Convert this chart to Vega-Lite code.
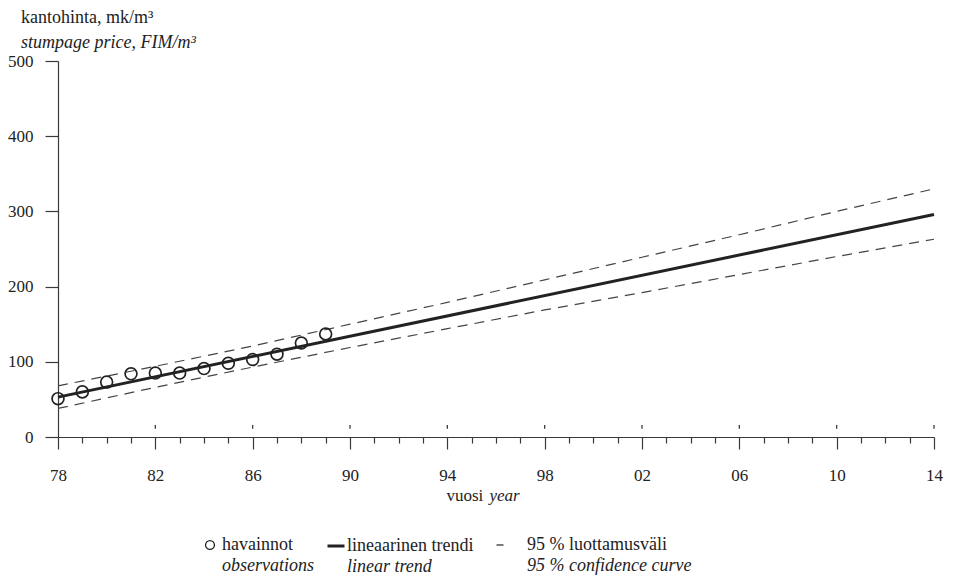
{
  "$schema": "https://vega.github.io/schema/vega-lite/v6.json",
  "width": 876,
  "height": 376,
  "autosize": {"type": "none"},
  "padding": {"left": 58, "top": 61, "right": 22, "bottom": 145},
  "background": "white",
  "config": {
    "font": "Liberation Serif",
    "view": {"stroke": null},
    "axis": {
      "grid": false,
      "domainColor": "#3a3a3a",
      "domainWidth": 1.2,
      "tickColor": "#3a3a3a",
      "tickWidth": 1.2,
      "labelColor": "#222",
      "labelFont": "Liberation Serif",
      "labelFontSize": 17,
      "titleFont": "Liberation Serif",
      "titleFontSize": 17,
      "titleFontWeight": "normal",
      "titleColor": "#222"
    },
    "legend": {
      "orient": "none",
      "direction": "vertical",
      "padding": 0,
      "rowPadding": 3,
      "title": null,
      "labelFont": "Liberation Serif",
      "labelFontSize": 18,
      "labelColor": "#222",
      "labelLimit": 300,
      "symbolStrokeColor": "#222"
    }
  },
  "title": {
    "text": "kantohinta, mk/m³",
    "subtitle": "stumpage price, FIM/m³",
    "anchor": "start",
    "frame": "group",
    "dx": -37,
    "offset": 0,
    "font": "Liberation Serif",
    "fontSize": 18,
    "fontWeight": "normal",
    "color": "#222",
    "subtitleFont": "Liberation Serif",
    "subtitleFontSize": 18,
    "subtitleFontStyle": "italic",
    "subtitleColor": "#222",
    "subtitlePadding": 7
  },
  "datasets": {
    "observations": [
      {"year": 1978, "price": 51, "item": "havainnot"},
      {"year": 1979, "price": 60, "item": "havainnot"},
      {"year": 1980, "price": 73, "item": "havainnot"},
      {"year": 1981, "price": 84, "item": "havainnot"},
      {"year": 1982, "price": 85, "item": "havainnot"},
      {"year": 1983, "price": 85, "item": "havainnot"},
      {"year": 1984, "price": 91, "item": "havainnot"},
      {"year": 1985, "price": 98, "item": "havainnot"},
      {"year": 1986, "price": 103, "item": "havainnot"},
      {"year": 1987, "price": 110, "item": "havainnot"},
      {"year": 1988, "price": 125, "item": "havainnot"},
      {"year": 1989, "price": 137, "item": "havainnot"}
    ],
    "trend": [
      {"year": 1978, "price": 53, "item": "lineaarinen trendi"},
      {"year": 2014, "price": 296, "item": "lineaarinen trendi"}
    ],
    "confidence": [
      {"year": 1978, "bound": "upper", "price": 68, "item": "95 % luottamusväli"},
      {"year": 1982, "bound": "upper", "price": 94, "item": "95 % luottamusväli"},
      {"year": 1986, "bound": "upper", "price": 121, "item": "95 % luottamusväli"},
      {"year": 1990, "bound": "upper", "price": 150, "item": "95 % luottamusväli"},
      {"year": 1994, "bound": "upper", "price": 179, "item": "95 % luottamusväli"},
      {"year": 1998, "bound": "upper", "price": 209, "item": "95 % luottamusväli"},
      {"year": 2002, "bound": "upper", "price": 239, "item": "95 % luottamusväli"},
      {"year": 2006, "bound": "upper", "price": 269, "item": "95 % luottamusväli"},
      {"year": 2010, "bound": "upper", "price": 300, "item": "95 % luottamusväli"},
      {"year": 2014, "bound": "upper", "price": 330, "item": "95 % luottamusväli"},
      {"year": 1978, "bound": "lower", "price": 38, "item": "95 % luottamusväli"},
      {"year": 1982, "bound": "lower", "price": 66, "item": "95 % luottamusväli"},
      {"year": 1986, "bound": "lower", "price": 93, "item": "95 % luottamusväli"},
      {"year": 1990, "bound": "lower", "price": 119, "item": "95 % luottamusväli"},
      {"year": 1994, "bound": "lower", "price": 144, "item": "95 % luottamusväli"},
      {"year": 1998, "bound": "lower", "price": 169, "item": "95 % luottamusväli"},
      {"year": 2002, "bound": "lower", "price": 192, "item": "95 % luottamusväli"},
      {"year": 2006, "bound": "lower", "price": 216, "item": "95 % luottamusväli"},
      {"year": 2010, "bound": "lower", "price": 240, "item": "95 % luottamusväli"},
      {"year": 2014, "bound": "lower", "price": 263, "item": "95 % luottamusväli"}
    ],
    "yearMarks": [
      {"year": 1982, "from": 11, "to": 16}, {"year": 1986, "from": 11, "to": 16},
      {"year": 1990, "from": 11, "to": 16}, {"year": 1994, "from": 11, "to": 16},
      {"year": 1998, "from": 11, "to": 16}, {"year": 2002, "from": 11, "to": 16},
      {"year": 2006, "from": 11, "to": 16}, {"year": 2010, "from": 11, "to": 16},
      {"year": 2014, "from": 11, "to": 16}
    ]
  },
  "layer": [
    {
      "data": {"name": "yearMarks"},
      "mark": {"type": "rule", "color": "#3a3a3a", "strokeWidth": 1.3},
      "encoding": {
        "x": {
          "field": "year",
          "type": "quantitative",
          "scale": {"domain": [1978, 2014], "nice": false, "zero": false},
          "axis": {
            "values": [1978, 1979, 1980, 1981, 1982, 1983, 1984, 1985, 1986, 1987, 1988, 1989, 1990, 1991, 1992, 1993, 1994, 1995, 1996, 1997, 1998, 1999, 2000, 2001, 2002, 2003, 2004, 2005, 2006, 2007, 2008, 2009, 2010, 2011, 2012, 2013, 2014],
            "labelExpr": "(datum.value - 1978) % 4 === 0 ? format(datum.value % 100, '02d') : ''",
            "tickSize": {"condition": {"test": "(datum.value - 1978) % 4 === 0", "value": 12}, "value": 6},
            "labelPadding": 18,
            "labelFlush": false,
            "labelOverlap": false,
            "title": "vuosi",
            "titleAlign": "left",
            "titleBaseline": "alphabetic",
            "titleX": 388,
            "titleY": 63
          }
        },
        "y": {
          "field": "from",
          "type": "quantitative",
          "scale": {"domain": [0, 500], "nice": false},
          "axis": {
            "values": [0, 100, 200, 300, 400, 500],
            "tickSize": 13,
            "labelPadding": 12,
            "title": null
          }
        },
        "y2": {"field": "to"}
      }
    },
    {
      "data": {"name": "confidence"},
      "mark": {"type": "line", "color": "#444", "strokeWidth": 1.2},
      "encoding": {
        "x": {"field": "year", "type": "quantitative", "axis": null},
        "y": {"field": "price", "type": "quantitative"},
        "detail": {"field": "bound"},
        "strokeDash": {
          "field": "item",
          "type": "nominal",
          "scale": {
            "domain": ["95 % luottamusväli", "95 % confidence curve"],
            "range": [[10, 7], [0, 100]]
          },
          "legend": {
            "legendX": 433,
            "legendY": 475,
            "symbolSize": 49,
            "symbolStrokeWidth": 1.2,
            "labelOffset": 18,
            "encoding": {
              "labels": {
                "fontStyle": {"condition": {"test": "datum.label === '95 % confidence curve'", "value": "italic"}, "value": "normal"}
              }
            }
          }
        }
      }
    },
    {
      "data": {"name": "trend"},
      "mark": {"type": "line", "color": "#222"},
      "encoding": {
        "x": {
          "field": "year",
          "type": "quantitative",
          "axis": {
            "orient": "bottom",
            "values": [1990],
            "ticks": false,
            "domain": false,
            "labels": false,
            "title": "year",
            "titleFontStyle": "italic",
            "titleAlign": "left",
            "titleBaseline": "alphabetic",
            "titleX": 431,
            "titleY": 63
          }
        },
        "y": {"field": "price", "type": "quantitative"},
        "strokeWidth": {
          "field": "item",
          "type": "nominal",
          "scale": {
            "domain": ["lineaarinen trendi", "linear trend"],
            "range": [3, 0]
          },
          "legend": {
            "legendX": 268,
            "legendY": 475,
            "symbolSize": 289,
            "labelOffset": 1,
            "encoding": {
              "labels": {
                "fontStyle": {"condition": {"test": "datum.label === 'linear trend'", "value": "italic"}, "value": "normal"}
              }
            }
          }
        }
      }
    },
    {
      "data": {"name": "observations"},
      "mark": {"type": "point", "filled": false, "size": 140, "strokeWidth": 1.7, "color": "#222", "opacity": 1},
      "encoding": {
        "x": {"field": "year", "type": "quantitative", "axis": null},
        "y": {"field": "price", "type": "quantitative"},
        "shape": {
          "field": "item",
          "type": "nominal",
          "scale": {
            "domain": ["havainnot", "observations"],
            "range": ["circle", "M0,0"]
          },
          "legend": {
            "legendX": 143,
            "legendY": 475,
            "symbolSize": 80,
            "symbolStrokeWidth": 1.3,
            "symbolFillColor": "transparent",
            "labelOffset": 3,
            "encoding": {
              "labels": {
                "fontStyle": {"condition": {"test": "datum.label === 'observations'", "value": "italic"}, "value": "normal"}
              }
            }
          }
        }
      }
    }
  ],
  "resolve": {"scale": {"x": "shared"}, "axis": {"x": "independent"}}
}
